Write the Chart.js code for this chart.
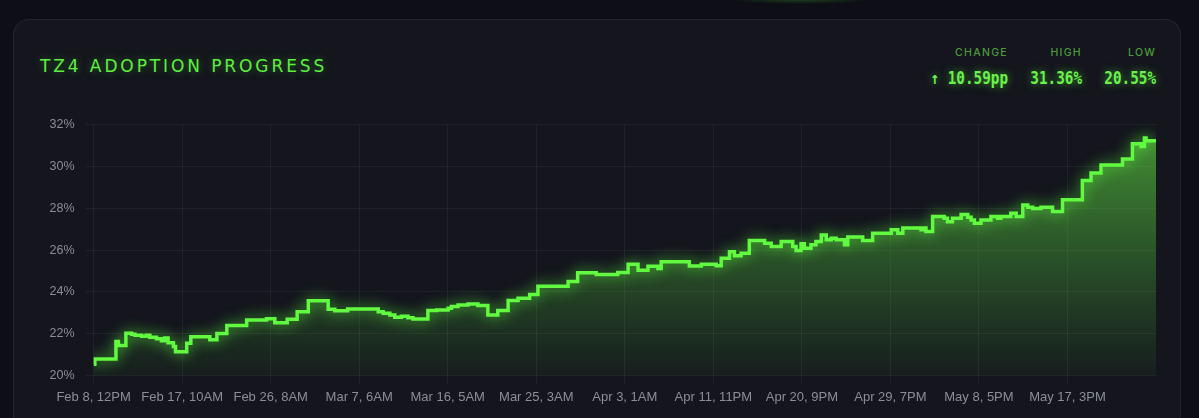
<!DOCTYPE html>
<html>
<head>
<meta charset="utf-8">
<script src="https://cdn.jsdelivr.net/npm/chart.js@4/dist/chart.umd.min.js"></script>
<style>
  html, body { margin: 0; padding: 0; }
  body {
    width: 1199px; height: 418px; overflow: hidden; position: relative;
    background: #0d0e16;
    font-family: 'Liberation Sans', Arial, sans-serif;
  }
  .top-glow {
    position: absolute; left: 720px; top: -12px; width: 160px; height: 16px;
    border-radius: 50%;
    background: radial-gradient(ellipse at center, rgba(87,242,58,0.45) 0%, rgba(87,242,58,0.1) 50%, rgba(87,242,58,0) 75%);
  }
  .card {
    position: absolute; left: 13px; top: 19px; width: 1168px; height: 430px;
    background: #14151d;
    border: 1px solid rgba(255,255,255,0.075);
    border-radius: 16px;
    box-sizing: border-box;
  }
  .title {
    position: absolute; left: 40px; top: 55px;
    color: #5ef03f; font-family: 'DejaVu Sans', sans-serif;
    font-size: 17px; letter-spacing: 2.9px; line-height: 22px;
    text-shadow: 0 0 8px rgba(94,240,63,0.4);
  }
  .stat { position: absolute; text-align: right; }
  .stat .lbl {
    color: #4c9a3c; font-family: Inter, 'Noto Sans', sans-serif;
    font-size: 10.5px; letter-spacing: 1.3px; line-height: 12px; font-weight: 500;
  }
  .stat .val {
    margin-top: 11px;
    color: #6cf24c; font-family: 'DejaVu Sans Mono', monospace;
    font-size: 14.3px; font-weight: bold; line-height: 16px;
    transform: scaleY(1.18); transform-origin: right center;
    text-shadow: 0 0 8px rgba(94,240,63,0.65);
  }
  #chart-wrap { position: absolute; left: 30px; top: 106px; width: 1140px; height: 304px; }
</style>
</head>
<body>
<div class="top-glow"></div>
<div class="card"></div>
<div class="title">TZ4 ADOPTION PROGRESS</div>
<div class="stat" style="right:191px; top:47px;"><div class="lbl">CHANGE</div><div class="val">↑ 10.59pp</div></div>
<div class="stat" style="right:117px; top:47px;"><div class="lbl">HIGH</div><div class="val">31.36%</div></div>
<div class="stat" style="right:43px; top:47px;"><div class="lbl">LOW</div><div class="val">20.55%</div></div>
<div id="chart-wrap"><canvas id="chart-adoption"></canvas></div>

<script>
// ── Data ──────────────────────────────────────────────────────────────────────
// hours since Feb 8, 12PM at which the share changed
const hours = [
  0, 3, 54, 60, 78, 92, 100, 116, 127, 136, 152, 164, 172, 180, 193, 198, 225, 235, 281, 298,
  322, 370, 418, 438, 468, 492, 519, 567, 583, 614, 688, 700, 716, 728, 744, 760, 772, 808, 829, 857,
  865, 881, 905, 929, 953, 977, 1002, 1026, 1054, 1074, 1147, 1170, 1215, 1267, 1292, 1316, 1340, 1364, 1372, 1440,
  1469, 1505, 1517, 1537, 1549, 1565, 1585, 1622, 1638, 1662, 1690, 1698, 1710, 1718, 1734, 1746, 1759, 1771, 1783, 1795,
  1815, 1823, 1859, 1883, 1928, 1944, 1956, 2000, 2008, 2012, 2028, 2056, 2064, 2076, 2097, 2113, 2121, 2129, 2145, 2169,
  2185, 2193, 2217, 2230, 2246, 2258, 2270, 2290, 2318, 2342, 2390, 2411, 2435, 2487, 2511, 2532, 2540, 2544, 2568
];
// tz4 share, percent
const share = [
  20.55, 20.80, 21.63, 21.44, 22.03, 21.98, 21.93, 21.88, 21.93, 21.84, 21.77, 21.67, 21.80, 21.58, 21.39, 21.15, 21.55, 21.86, 21.72, 22.02,
  22.40, 22.66, 22.72, 22.53, 22.70, 23.05, 23.58, 23.18, 23.10, 23.19, 23.06, 22.98, 22.90, 22.79, 22.84, 22.77, 22.71, 23.11, 23.14, 23.22,
  23.30, 23.38, 23.43, 23.35, 22.90, 23.11, 23.59, 23.70, 23.88, 24.27, 24.50, 24.92, 24.83, 24.93, 25.33, 25.04, 25.23, 25.12, 25.44, 25.24,
  25.32, 25.25, 25.61, 25.92, 25.73, 25.85, 26.46, 26.33, 26.17, 26.41, 26.17, 25.98, 26.30, 26.09, 26.25, 26.41, 26.72, 26.49, 26.57, 26.49,
  26.25, 26.62, 26.46, 26.81, 26.97, 26.81, 27.05, 26.97, 27.05, 26.89, 27.60, 27.52, 27.36, 27.52, 27.70, 27.57, 27.44, 27.28, 27.44, 27.60,
  27.52, 27.60, 27.76, 27.60, 28.16, 28.05, 27.99, 28.05, 27.84, 28.40, 29.32, 29.68, 30.07, 30.35, 31.08, 30.95, 31.36, 31.22, 31.22
];
const tickLabels = [
  'Feb 8, 12PM', 'Feb 17, 10AM', 'Feb 26, 8AM', 'Mar 7, 6AM', 'Mar 16, 5AM', 'Mar 25, 3AM',
  'Apr 3, 1AM', 'Apr 11, 11PM', 'Apr 20, 9PM', 'Apr 29, 7PM', 'May 8, 5PM', 'May 17, 3PM'
];
const tickStepHours = 214;
const spanHours = 2568;

// ── Glow for the line ─────────────────────────────────────────────────────────
const glowPlugin = {
  id: 'glow',
  beforeDatasetDraw(chart) {
    const c = chart.ctx;
    c.save();
    c.shadowColor = 'rgba(87, 242, 58, 0.9)';
    c.shadowBlur = 14;
  },
  afterDatasetDraw(chart) {
    chart.ctx.restore();
  }
};

// ── Chart ─────────────────────────────────────────────────────────────────────
const ctx = document.getElementById('chart-adoption').getContext('2d');
const tickFont = { family: "'Liberation Sans', Arial, sans-serif", size: 12.5 };
const xFont = { family: "'Liberation Sans', Arial, sans-serif", size: 13 };

new Chart(ctx, {
  type: 'line',
  data: {
    datasets: [{
      data: hours.map((h, i) => ({ x: h, y: share[i] })),
      stepped: true,
      borderColor: '#62fa40',
      borderWidth: 3.5,
      pointRadius: 0,
      fill: 'start',
      backgroundColor: c => {
        const area = c.chart.chartArea;
        if (!area) return 'rgba(87,242,58,0.2)';
        const g = c.chart.ctx.createLinearGradient(0, area.top, 0, area.bottom);
        g.addColorStop(0, 'rgba(100, 225, 70, 0.62)');
        g.addColorStop(1, 'rgba(80, 200, 60, 0.05)');
        return g;
      }
    }]
  },
  options: {
    responsive: true,
    maintainAspectRatio: false,
    animation: false,
    layout: { padding: { top: 12, right: 14, left: 0, bottom: 0 } },
    plugins: { legend: { display: false }, tooltip: { enabled: false } },
    scales: {
      x: {
        type: 'linear',
        min: 0,
        max: spanHours,
        afterFit: s => { s.height = 34.3; },
        ticks: {
          stepSize: tickStepHours,
          autoSkip: false,
          maxRotation: 0,
          minRotation: 0,
          padding: 6,
          color: '#8b8e98',
          font: xFont,
          callback: (v, i) => tickLabels[i] ?? ''
        },
        grid: {
          color: c => c.index < tickLabels.length ? 'rgba(255,255,255,0.055)' : 'transparent',
          tickLength: 8
        },
        border: { display: false }
      },
      y: {
        min: 20,
        max: 32,
        afterFit: s => { s.width = 63.6; },
        ticks: {
          stepSize: 2,
          padding: 11,
          color: '#8b8e98',
          font: tickFont,
          callback: v => v + '%'
        },
        grid: { color: 'rgba(255,255,255,0.055)', tickLength: 8 },
        border: { display: false }
      }
    }
  },
  plugins: [glowPlugin]
});
</script>
</body>
</html>
